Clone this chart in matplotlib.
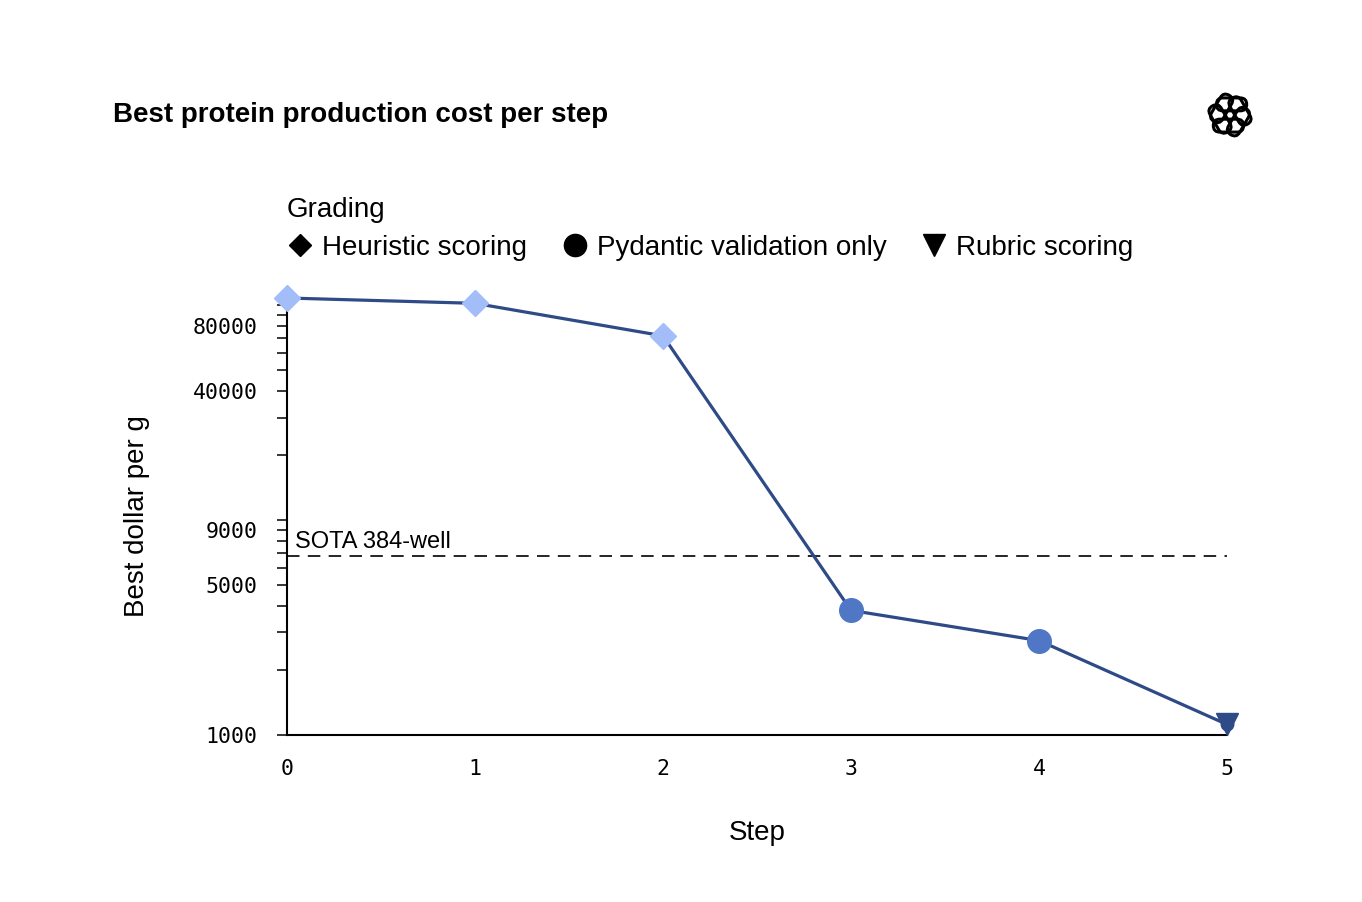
import numpy as np
import matplotlib
matplotlib.use('Agg')
import matplotlib.pyplot as plt
from matplotlib.lines import Line2D
from matplotlib.patches import FancyBboxPatch
from matplotlib.ticker import FixedLocator, NullLocator
import matplotlib.transforms as mtransforms

plt.rcParams['font.family'] = ['Liberation Sans', 'DejaVu Sans']

# data
steps = [0, 1, 2, 3, 4, 5]
cost = [108000, 102000, 72000, 3800, 2750, 1120]
grading = ['Heuristic scoring', 'Heuristic scoring', 'Heuristic scoring',
           'Pydantic validation only', 'Pydantic validation only', 'Rubric scoring']
sota = 6800
sota_label = 'SOTA 384-well'
ytick_labelled = [1000, 5000, 9000, 40000, 80000]

line_col = '#2e4a87'
styles = {
    'Heuristic scoring': ('D', '#a3bdf8', 13),
    'Pydantic validation only': ('o', '#5077c5', 17),
    'Rubric scoring': ('v', '#2e4a87', 16),
}

fig = plt.figure(figsize=(13.62, 9.02), dpi=100)
ax = fig.add_axes([287/1362, 1-735/902, 940/1362, 437/902])

ax.plot(steps, cost, color=line_col, lw=2.3, zorder=2, clip_on=False)
for x, y, g in zip(steps, cost, grading):
    m, c, s = styles[g]
    ax.plot(x, y, marker=m, color=c, markersize=s, linestyle='none', zorder=3, clip_on=False)
# small dot under the last triangle
ax.plot(steps[-1], cost[-1], marker='o', color=line_col, markersize=9, zorder=3, clip_on=False)

ax.axhline(sota, color='black', lw=1.2, ls=(0, (7.5, 5)), zorder=1)
ax.text(0.04, sota * 1.035, sota_label, fontsize=17, va='bottom', ha='left')

ax.set_yscale('log')
ax.set_xlim(0, 5)
ax.set_ylim(1000, max(cost))

ticks = []
for d in [1000, 10000, 100000]:
    for k in range(1, 10):
        if d * k <= max(cost):
            ticks.append(d * k)
ax.yaxis.set_major_locator(FixedLocator(ticks))
ax.yaxis.set_minor_locator(NullLocator())
ax.set_yticklabels([str(t) if t in ytick_labelled else '' for t in ticks])
ax.set_xticks(steps)
ax.set_xticklabels([str(s) for s in steps])

for lab in ax.get_xticklabels() + ax.get_yticklabels():
    lab.set_family('DejaVu Sans Mono')
    lab.set_fontsize(15.5)
ax.tick_params(axis='y', length=7, width=1.1, pad=14)
ax.tick_params(axis='x', length=0, pad=17)

for sp in ['top', 'right']:
    ax.spines[sp].set_visible(False)
for sp in ['left', 'bottom']:
    ax.spines[sp].set_linewidth(1.5)

ax.set_xlabel('Step', fontsize=20, labelpad=30)
ax.set_ylabel('Best dollar per g', fontsize=20)
ax.yaxis.set_label_coords(-0.146, 0.5)

handles = [Line2D([], [], marker='D', color='black', linestyle='none', markersize=11),
           Line2D([], [], marker='o', color='black', linestyle='none', markersize=16),
           Line2D([], [], marker='v', color='black', linestyle='none', markersize=16)]
ax.legend(handles, list(styles.keys()), title='Grading', ncol=3, frameon=False,
          loc='lower left', bbox_to_anchor=(0, 1.085), alignment='left',
          fontsize=20, title_fontsize=20, borderpad=0, borderaxespad=0,
          handlelength=0.94, handletextpad=0.32, columnspacing=1.25,
          labelspacing=0.44)

fig.text(113/1362, 1-115/902, 'Best protein production cost per step',
         fontsize=20, fontweight='bold', va='center', ha='left')

# rough sketch of the logo in the top right corner
lax = fig.add_axes([1205/1362, 1-140/902, 50/1362, 50/902])
lax.set_xlim(-1.2, 1.2)
lax.set_ylim(-1.2, 1.2)
lax.set_aspect('equal')
lax.axis('off')
for k in range(6):
    ang = k * 60 + 30
    p = FancyBboxPatch((0.2, -0.8), 0.62, 1.45, boxstyle='round,pad=0,rounding_size=0.31',
                       fc='none', ec='black', lw=2.2)
    p.set_transform(mtransforms.Affine2D().rotate_deg(ang) + lax.transData)
    lax.add_patch(p)

fig.savefig('out.png', dpi=100)
